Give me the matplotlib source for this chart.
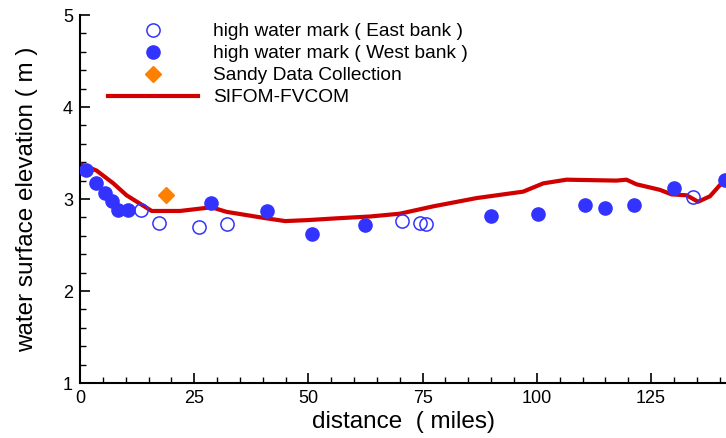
import matplotlib
matplotlib.use("Agg")
import matplotlib.pyplot as plt
from matplotlib.ticker import MultipleLocator

plt.rcParams['font.family'] = ['Liberation Sans', 'DejaVu Sans']

# East bank high water marks (open circles)
east_x = [13.3, 17.4, 26.0, 32.1, 70.5, 74.4, 75.7, 134.2]
east_y = [2.88, 2.74, 2.70, 2.73, 2.76, 2.74, 2.73, 3.02]

# West bank high water marks (filled circles)
west_x = [1.3, 3.5, 5.5, 6.9, 8.4, 10.6, 28.7, 41.0, 50.8, 62.3, 89.9, 100.2,
          110.5, 114.9, 121.3, 130.0, 141.1]
west_y = [3.31, 3.17, 3.07, 2.98, 2.88, 2.88, 2.96, 2.87, 2.62, 2.72, 2.82, 2.84,
          2.93, 2.90, 2.93, 3.12, 3.21]

# Sandy Data Collection
sandy_x = [18.8]
sandy_y = [3.04]

# SIFOM-FVCOM model line
model_x = [0.0, 3.6, 7.3, 10.2, 13.1, 15.7, 21.9, 28.8, 32.1, 40.8, 44.9, 49.6,
           56.2, 63.5, 70.0, 77.3, 86.8, 97.0, 101.4, 106.5, 117.4, 119.6, 121.8,
           126.9, 129.5, 132.8, 135.3, 137.9, 140.4, 142.0]
model_y = [3.38, 3.31, 3.17, 3.04, 2.95, 2.87, 2.87, 2.91, 2.86, 2.79, 2.76, 2.77,
           2.79, 2.81, 2.84, 2.92, 3.01, 3.08, 3.17, 3.21, 3.20, 3.21, 3.16,
           3.10, 3.05, 3.04, 2.97, 3.03, 3.17, 3.24]

blue = '#3333ff'
red = '#d00000'
orange = '#ff8000'

fig = plt.figure(figsize=(7.26, 4.38), dpi=100)
ax = fig.add_axes([80/726, 1-383/438, 1-80/726, (383-15)/438])

ax.plot(model_x, model_y, color=red, lw=3.0, label='SIFOM-FVCOM', zorder=2)
ax.plot(east_x, east_y, 'o', ms=9.5, mfc='none', mec=blue, mew=1.1,
        label='high water mark ( East bank )', zorder=3)
ax.plot(west_x, west_y, 'o', ms=9.5, mfc=blue, mec=blue,
        label='high water mark ( West bank )', zorder=3)
ax.plot(sandy_x, sandy_y, 'D', ms=8, mfc=orange, mec=orange,
        label='Sandy Data Collection', zorder=3)

ax.set_xlim(0, 141.4)
ax.set_ylim(1, 5)
ax.spines['top'].set_visible(False)
ax.spines['right'].set_visible(False)
ax.spines['left'].set_linewidth(1.5)
ax.spines['bottom'].set_linewidth(1.5)

ax.xaxis.set_major_locator(MultipleLocator(25))
ax.xaxis.set_minor_locator(MultipleLocator(5))
ax.yaxis.set_major_locator(MultipleLocator(1))
ax.yaxis.set_minor_locator(MultipleLocator(0.2))
ax.tick_params(which='both', direction='in', labelsize=13, pad=5)
ax.tick_params(which='major', length=7, width=1.2)
ax.tick_params(which='minor', length=4, width=1)

ax.set_xlabel('distance  ( miles)', fontsize=17.5, labelpad=3)
ax.set_ylabel('water surface elevation ( m )', fontsize=17.5, labelpad=18)

handles, labels = ax.get_legend_handles_labels()
order = [1, 2, 3, 0]
ax.legend([handles[i] for i in order], [labels[i] for i in order],
          loc='upper left', bbox_to_anchor=(108/726, 1-23/438),
          bbox_transform=fig.transFigure, frameon=False, fontsize=13.8,
          handlelength=4.7, handletextpad=0.8, labelspacing=0.24,
          borderpad=0, borderaxespad=0)

fig.savefig('out.png', dpi=100)
